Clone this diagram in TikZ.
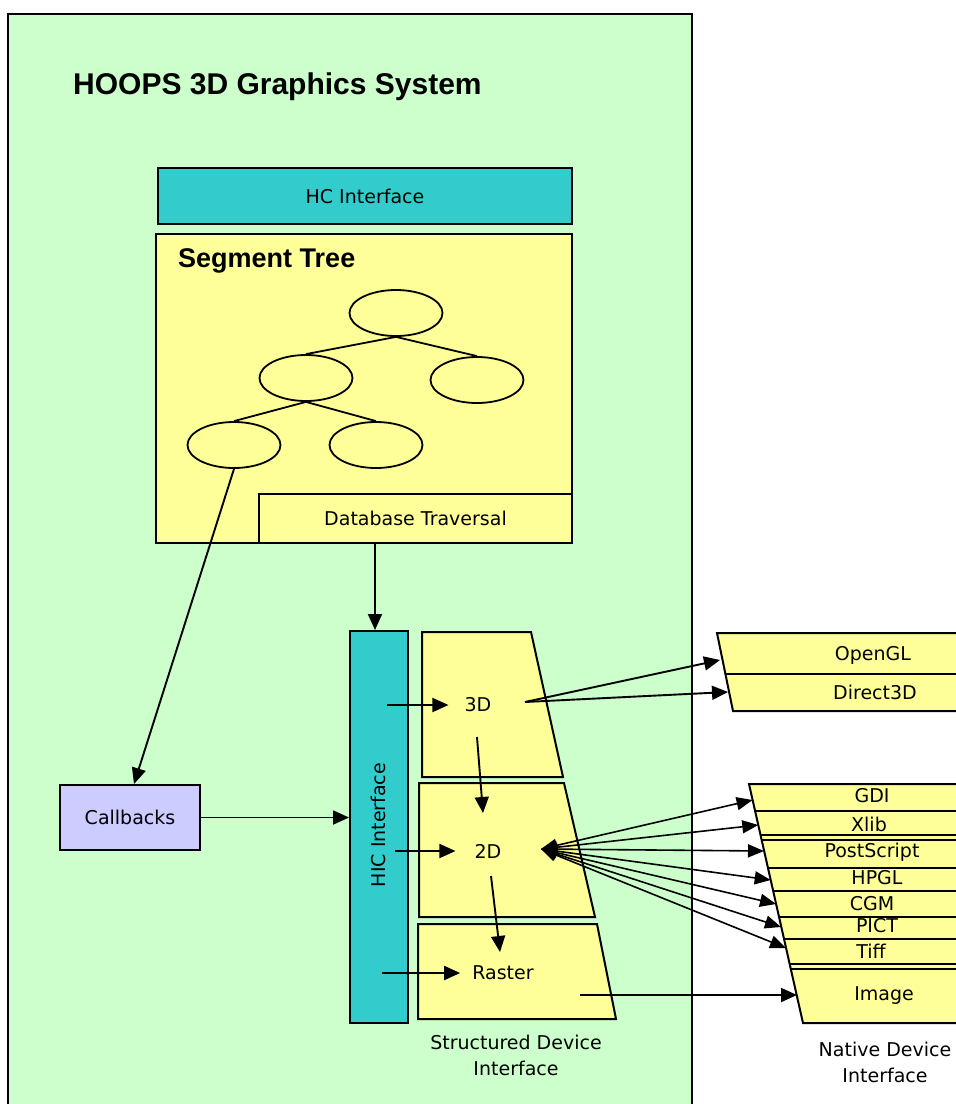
\documentclass[tikz,border=0pt]{standalone}
\usepackage{fontspec}
\setmainfont{DejaVu Sans}
\newfontfamily\titlefont{Liberation Sans}
\usetikzlibrary{arrows.meta,shapes.geometric,calc}
\definecolor{bggreen}{HTML}{CCFFCC}
\definecolor{hcteal}{HTML}{33CCCC}
\definecolor{yel}{HTML}{FFFF99}
\definecolor{lav}{HTML}{CCCCFF}
\begin{document}
\begin{tikzpicture}[x=1pt,y=-1pt,
  box/.style={draw=black, line width=2pt},
  lbl/.style={font=\fontsize{19}{22}\selectfont, inner sep=0pt},
  ln/.style={line width=1.8pt},
  arr/.style={line width=1.9pt, -{Triangle[length=16pt,width=14pt]}},
  darr/.style={line width=1.6pt, {Triangle[length=16pt,width=13pt]}-{Triangle[length=16pt,width=13pt]}},
  tnode/.style={draw, ellipse, line width=1.8pt, minimum width=93pt, minimum height=46pt, inner sep=0pt}]
\useasboundingbox (0,0) rectangle (956,1104);
\clip (0,0) rectangle (956,1104);
\fill[white] (0,0) rectangle (956,1104);
% main system box
\draw[box, fill=bggreen] (8,14) rectangle (692,1130);
\node[anchor=west, inner sep=0pt, font=\titlefont\bfseries\fontsize{30}{34}\selectfont] (title) at (73,87) {HOOPS 3D Graphics System};
% HC interface
\node[box, fill=hcteal, minimum width=414pt, minimum height=56pt, lbl] (hc) at (365,196) {HC Interface};
% segment tree
\node[box, fill=yel, minimum width=416pt, minimum height=309pt] (seg) at (364,388.5) {};
\node[anchor=west, inner sep=0pt, font=\titlefont\bfseries\fontsize{27}{30}\selectfont] (segt) at (178,261) {Segment Tree};
\node[box, fill=yel, minimum width=313pt, minimum height=49pt, lbl] (dbt) at (415.5,518.5) {Database Traversal};
% tree
\node[tnode] (e1) at (396,313) {};
\node[tnode] (e2) at (306,378) {};
\node[tnode] (e3) at (477,380) {};
\node[tnode] (e4) at (234,445) {};
\node[tnode] (e5) at (376,445) {};
\draw[ln] (e1.south) -- (e2.north);
\draw[ln] (e1.south) -- (e3.north);
\draw[ln] (e2.south) -- (e4.north);
\draw[ln] (e2.south) -- (e5.north);
% callbacks
\node[box, fill=lav, minimum width=140pt, minimum height=65pt, lbl] (cb) at (130,817.5) {Callbacks};
% HIC interface
\node[box, fill=hcteal, minimum width=58pt, minimum height=392pt] (hic) at (379,827) {};
\node[lbl, rotate=90] (hict) at (378,825) {HIC Interface};
% structured device interface
\draw[box, fill=yel] (422,632) -- (531,632) -- (563,777) -- (422,777) -- cycle;
\draw[box, fill=yel] (419,783) -- (564,783) -- (595,917) -- (419,917) -- cycle;
\draw[box, fill=yel] (418,924) -- (597,924) -- (616,1019) -- (418,1019) -- cycle;
\node[lbl] (t3d) at (478,705) {3D};
\node[lbl] (t2d) at (488,851) {2D};
\node[lbl] (tras) at (503,973) {Raster};
\node[lbl, align=center, font=\fontsize{19}{26}\selectfont] (sdi) at (516,1055) {Structured Device\\Interface};
% native device interface
\draw[box, fill=yel] (717,633) -- (965,633) -- (965,711) -- (733,711) -- cycle;
\draw[ln] (725.4,674) -- (965,674);
\node[lbl] (ogl) at (873,655) {OpenGL};
\node[lbl] (d3d) at (875,692) {Direct3D};
\draw[box, fill=yel] (749,784) -- (965,784) -- (965,1023) -- (803,1023) -- cycle;
\foreach \yy in {811,835,840,868,891,917,939,964,969}
  \draw[ln] ({749+0.226*(\yy-784)},\yy) -- (965,\yy);
\node[lbl] (gdi) at (872,796) {GDI};
\node[lbl] (xlib) at (869,824) {Xlib};
\node[lbl] (ps) at (872,852) {PostScript};
\node[lbl] (hpgl) at (877,878) {HPGL};
\node[lbl] (cgm) at (872,904) {CGM};
\node[lbl] (pict) at (877,926) {PICT};
\node[lbl] (tiff) at (871,951) {Tiff};
\node[lbl] (img) at (884,996) {Image};
\node[lbl, align=center, font=\fontsize{19}{26}\selectfont] (ndi) at (885,1062) {Native Device\\Interface};
% arrow end points on the slanted edges
\coordinate (pgl) at (720,660);
\coordinate (pd3d) at (728,692);
\coordinate (pgdi) at (752.6,800);
\coordinate (pxlib) at (758.3,825);
\coordinate (pps) at (764,851);
\coordinate (phpgl) at (770.7,880);
\coordinate (pcgm) at (776,904);
\coordinate (ppict) at (781,927);
\coordinate (ptiff) at (786,948);
\coordinate (pimg) at (797,995);
\coordinate (s3d) at (525,702);
\coordinate (s2d) at (541,849);
\coordinate (sras) at (580,995);
% connectors
\draw[arr] (e4.south) -- ($(cb.north)+(4,0)$);
\draw[arr] (dbt.south -| 375,0) -- (hic.north -| 375,0);
\draw[arr] (cb.east) -- (hic.west |- cb.east);
\draw[arr] ($(hic.center |- t3d)+(8,0)$) -- ($(t3d.west)+(-16,0)$);
\draw[arr] ($(t3d)+(-1,32)$) -- ($(t2d)+(-5,-38)$);
\draw[arr] ($(hic.center |- t2d)+(16,0)$) -- ($(t2d.west)+(-19,0)$);
\draw[arr] ($(t2d)+(3,25)$) -- ($(tras)+(-3,-21)$);
\draw[arr] ($(hic.center |- tras)+(3,0)$) -- ($(tras.west)+(-12,0)$);
\draw[arr] (sras) -- (pimg);
\draw[arr] (s3d) -- (pgl);
\draw[arr] (s3d) -- (pd3d);
\foreach \p in {pgdi,pxlib,pps,phpgl,pcgm,ppict,ptiff}
  \draw[darr] (s2d) -- (\p);
\end{tikzpicture}
\end{document}
